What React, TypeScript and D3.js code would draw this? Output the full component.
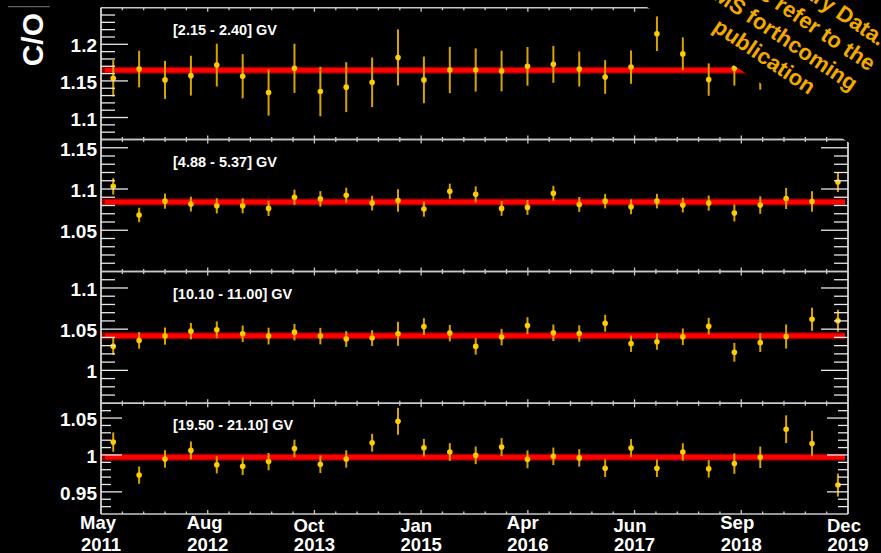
import * as d3 from "d3";

// bin centres (4 Bartels rotations each)
const DATES = [
  "2011-07-12", "2011-10-28", "2012-02-13", "2012-05-31", "2012-09-16", "2013-01-02",
  "2013-04-20", "2013-08-06", "2013-11-22", "2014-03-10", "2014-06-26", "2014-10-12",
  "2015-01-28", "2015-05-16", "2015-09-01", "2015-12-18", "2016-04-04", "2016-07-21",
  "2016-11-06", "2017-02-22", "2017-06-10", "2017-09-26", "2018-01-12", "2018-04-30",
  "2018-08-15", "2018-12-01", "2019-03-19", "2019-07-05", "2019-10-21",
];

const RIGIDITY = ["[2.15 - 2.40] GV", "[4.88 - 5.37] GV", "[10.10 - 11.00] GV", "[19.50 - 21.10] GV"];

const CO_1 = [1.1536, 1.1662, 1.1514, 1.1572, 1.1716, 1.1564, 1.1342, 1.1672, 1.1355, 1.1415, 1.1482, 1.182, 1.1514, 1.1649, 1.1649, 1.1635, 1.1699, 1.1726, 1.1662, 1.1554, 1.1689, 1.2145, 1.1869, 1.1518, 1.1672, 1.162, 1.16, 1.168, 1.165];
const ERR_1 = [0.0248, 0.025, 0.0259, 0.0272, 0.0293, 0.0302, 0.0316, 0.0335, 0.0338, 0.0341, 0.0338, 0.0383, 0.0318, 0.0316, 0.0295, 0.0277, 0.0264, 0.0252, 0.0239, 0.023, 0.0228, 0.0236, 0.0226, 0.0221, 0.0236, 0.024, 0.025, 0.026, 0.027];

const CO_2 = [1.1032, 1.0685, 1.0853, 1.0817, 1.0796, 1.0796, 1.0765, 1.09, 1.088, 1.0924, 1.0829, 1.0861, 1.0757, 1.0972, 1.0936, 1.0765, 1.0777, 1.0948, 1.0813, 1.0853, 1.0784, 1.0853, 1.0805, 1.0829, 1.0709, 1.0805, 1.0885, 1.0849, 1.1084];
const ERR_2 = [0.01, 0.0088, 0.0092, 0.009, 0.0092, 0.009, 0.0092, 0.0092, 0.0094, 0.0092, 0.009, 0.0136, 0.0092, 0.0092, 0.0096, 0.009, 0.009, 0.009, 0.009, 0.0088, 0.009, 0.0088, 0.0088, 0.0092, 0.0102, 0.0106, 0.0128, 0.0124, 0.012];

const CO_3 = [1.0291, 1.0363, 1.0416, 1.0476, 1.0492, 1.0444, 1.0416, 1.0464, 1.0416, 1.038, 1.0392, 1.0444, 1.0531, 1.0452, 1.0291, 1.0404, 1.0543, 1.0456, 1.0447, 1.0572, 1.0324, 1.0348, 1.0408, 1.0536, 1.0219, 1.0336, 1.0411, 1.062, 1.0603];
const ERR_3 = [0.0104, 0.01, 0.0104, 0.01, 0.0102, 0.01, 0.0102, 0.01, 0.01, 0.0096, 0.0096, 0.0146, 0.0102, 0.01, 0.01, 0.01, 0.0102, 0.01, 0.01, 0.0102, 0.01, 0.0098, 0.01, 0.0102, 0.0114, 0.0114, 0.0146, 0.014, 0.0134];

const CO_4 = [1.0174, 0.9727, 0.9946, 1.0062, 0.9866, 0.9847, 0.991, 1.0088, 0.9874, 0.9946, 1.0165, 1.0456, 1.0098, 1.004, 0.9995, 1.0107, 0.9941, 0.9981, 0.996, 0.982, 1.0094, 0.982, 1.004, 0.9812, 0.9883, 0.9968, 1.0349, 1.0156, 0.9592];
const ERR_4 = [0.0131, 0.0117, 0.0118, 0.0121, 0.0116, 0.0119, 0.0117, 0.0119, 0.0119, 0.0118, 0.0121, 0.0183, 0.0119, 0.0119, 0.0119, 0.0121, 0.0121, 0.0119, 0.0118, 0.0119, 0.0121, 0.0119, 0.0118, 0.0118, 0.0139, 0.0145, 0.0188, 0.0172, 0.0156];

const VALUES = [CO_1, CO_2, CO_3, CO_4];
const ERRORS = [ERR_1, ERR_2, ERR_3, ERR_4];
const FITS = [1.1645, 1.0842, 1.0421, 0.997];
const Y_DOMAINS = [[1.07, 1.25], [1.0, 1.16], [0.96, 1.12], [0.92, 1.07]];

const MONTHS = ["May", "Aug", "Oct", "Jan", "Apr", "Jun", "Sep", "Dec"];
const YEARS = ["2011", "2012", "2013", "2015", "2016", "2017", "2018", "2019"];

const WATERMARK = ["Preliminary Data.", "Please refer to the", "AMS forthcoming", "publication"];

const W = 881;
const H = 553;
const X0 = 101;
const X1 = 848;
const EDGES = [7.7, 139.5, 271.5, 403.3, 514];
const FONT = "'Liberation Sans', Arial, Helvetica, sans-serif";

const x = d3
  .scaleUtc()
  .domain([new Date("2011-05-22"), new Date("2019-12-02")])
  .range([X0, X1]);
const [t0, t1] = x.domain().map((d) => +d);
const nDiv = MONTHS.length - 1;
const majorT = d3.range(nDiv + 1).map((i) => new Date(t0 + ((t1 - t0) * i) / nDiv));
const minorT = d3.range(nDiv * 5 + 1).map((i) => new Date(t0 + ((t1 - t0) * i) / (nDiv * 5)));
const dates = DATES.map((d) => new Date(d));

function Panel({ i }: { i: number }) {
  const top = EDGES[i];
  const bottom = EDGES[i + 1];
  const [lo, hi] = Y_DOMAINS[i];
  const y = d3.scaleLinear().domain([lo, hi]).range([bottom, top]);
  const big = i < 3;
  const majLen = big ? 27 : 21;
  const minLen = big ? 14 : 10;
  const ticks = d3
    .range(Math.ceil(lo * 100 - 1e-6), Math.floor(hi * 100 + 1e-6) + 1)
    .map((k) => k / 100)
    .filter((v) => v > lo + 1e-6 && v < hi - 1e-6);
  const isMajor = (v: number) => Math.round(v * 100) % 5 === 0;
  const vals = VALUES[i];
  const errs = ERRORS[i];
  const fy = y(FITS[i]);

  return (
    <g>
      {/* fit line */}
      <line x1={X0} x2={X1 - 3} y1={fy} y2={fy} stroke="#8e0000" strokeWidth={7} />
      <line x1={X0 + 4} x2={X1 - 3} y1={fy} y2={fy} stroke="#ff0000" strokeWidth={4.5} />

      {/* data */}
      {vals.map((v, k) => (
        <g key={k}>
          <line
            x1={x(dates[k])}
            x2={x(dates[k])}
            y1={y(v - errs[k])}
            y2={y(v + errs[k])}
            stroke="#d6a400"
            strokeWidth={2}
          />
          <circle cx={x(dates[k])} cy={y(v)} r={2.8} fill="#ffcc00" />
        </g>
      ))}

      {/* frame */}
      <line x1={X0} x2={X1} y1={top} y2={top} stroke="#c8c8c8" strokeWidth={1.5} />
      <line x1={X0} x2={X1} y1={bottom} y2={bottom} stroke="#c8c8c8" strokeWidth={1.5} />
      <line x1={X0} x2={X0} y1={top} y2={bottom} stroke="#fff" strokeWidth={1.5} />
      <line x1={X1} x2={X1} y1={top} y2={bottom} stroke="#fff" strokeWidth={1.5} />

      {/* x ticks top & bottom */}
      {minorT.map((t, k) => {
        const len = k % 5 === 0 ? 4 : 2.5;
        return (
          <g key={"xt" + k} stroke="#c8c8c8" strokeWidth={1.3}>
            <line x1={x(t)} x2={x(t)} y1={top} y2={top + len} />
            <line x1={x(t)} x2={x(t)} y1={bottom} y2={bottom - len} />
          </g>
        );
      })}

      {/* y ticks */}
      {ticks.map((v) => {
        const len = isMajor(v) ? majLen : minLen;
        return (
          <g key={"yt" + v} stroke="#e8e8e8" strokeWidth={1.3}>
            <line x1={X0} x2={X0 + len} y1={y(v)} y2={y(v)} />
            <line x1={X1} x2={X1 - len} y1={y(v)} y2={y(v)} />
          </g>
        );
      })}
      {ticks.filter(isMajor).map((v) => (
        <text
          key={"yl" + v}
          x={97}
          y={y(v) + 8}
          textAnchor="end"
          fill="#fff"
          fontSize={19}
          fontWeight="bold"
          fontFamily={FONT}
        >
          {String(+v.toFixed(2))}
        </text>
      ))}

      <text x={173} y={top + 27} fill="#fff" fontSize={14.5} fontWeight="bold" fontFamily={FONT}>
        {RIGIDITY[i]}
      </text>
    </g>
  );
}

export default function App() {
  const wmAngle = 33.9;
  return (
    <svg
      width={W}
      height={H}
      style={{ position: "absolute", left: 0, top: 0, background: "#000" }}
    >
      <rect width={W} height={H} fill="#000" />
      <line x1={8} x2={50} y1={6.7} y2={6.7} stroke="#777" strokeWidth={1} />
      <text
        transform="translate(43,13) rotate(-90)"
        textAnchor="end"
        fill="#fff"
        fontSize={30}
        fontWeight="bold"
        fontFamily={FONT}
      >
        C/O
      </text>

      {[0, 1, 2, 3].map((i) => (
        <Panel key={i} i={i} />
      ))}

      {/* time axis labels */}
      {majorT.map((t, k) => (
        <g key={"xl" + k} fill="#fff" fontSize={18.5} fontWeight="bold" fontFamily={FONT}>
          <text x={x(t) - 21} y={/[gjpqy]/.test(MONTHS[k]) ? 529 : 532} textAnchor="start">
            {MONTHS[k]}
          </text>
          <text x={x(t)} y={550.5} textAnchor="middle">
            {YEARS[k]}
          </text>
        </g>
      ))}

      {/* preliminary-data stamp */}
      <g transform={`translate(647,7) rotate(${wmAngle})`}>
        <rect x={-400} y={-500} width={1100} height={500} fill="#000" />
        {WATERMARK.map((s, k) => (
          <text
            key={k}
            x={125}
            y={-17 - (WATERMARK.length - 1 - k) * 26.5}
            textAnchor="middle"
            fill="#f2a900"
            fontSize={22}
            fontWeight="bold"
            fontFamily={FONT}
          >
            {s}
          </text>
        ))}
      </g>
    </svg>
  );
}
